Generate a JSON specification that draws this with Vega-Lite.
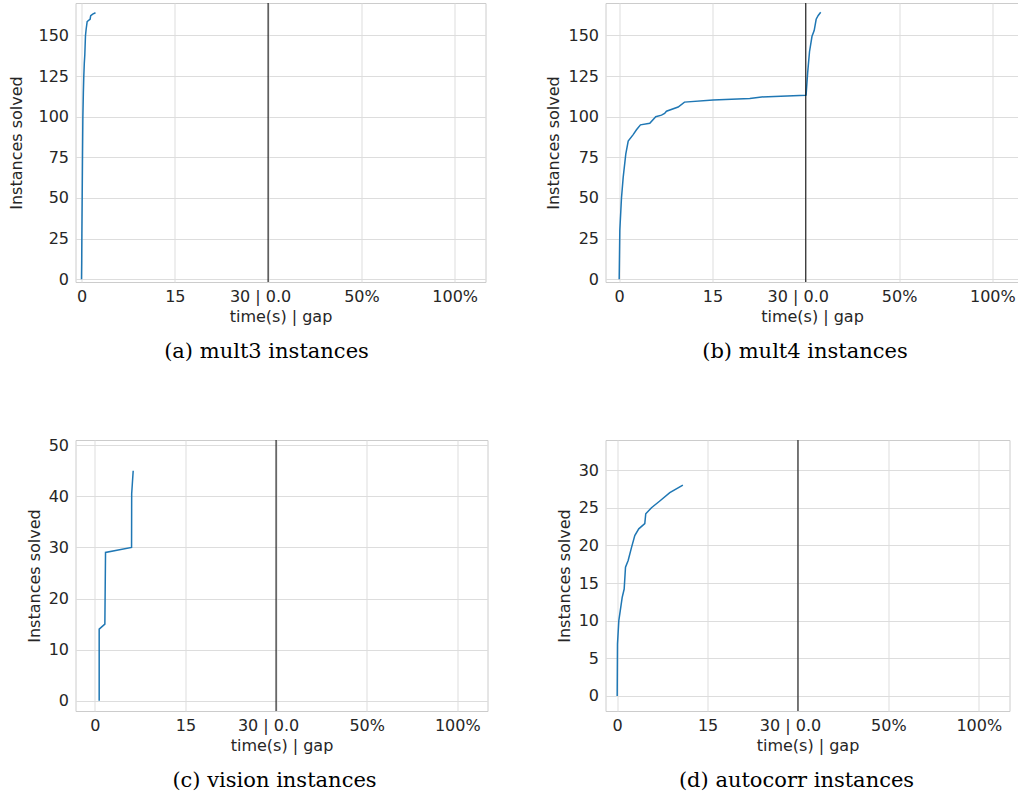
{
  "$schema": "https://vega.github.io/schema/vega-lite/v6.json",
  "usermeta": {"embedOptions": {"actions": false}},
  "background": "white",
  "padding": {"left": 7.5, "top": 2, "right": 0, "bottom": 0},
  "columns": 2,
  "bounds": "flush",
  "spacing": {"row": 158, "column": 118},
  "datasets": {
    "mult3": [
      {"x": 0, "y": 0}, {"x": 0.03, "y": 10}, {"x": 0.06, "y": 28}, {"x": 0.11, "y": 50},
      {"x": 0.16, "y": 75}, {"x": 0.22, "y": 100}, {"x": 0.3, "y": 115}, {"x": 0.37, "y": 125},
      {"x": 0.45, "y": 133}, {"x": 0.53, "y": 138}, {"x": 0.64, "y": 150}, {"x": 0.75, "y": 154},
      {"x": 0.91, "y": 158.5}, {"x": 1.2, "y": 159.5}, {"x": 1.38, "y": 160}, {"x": 1.48, "y": 162.2},
      {"x": 1.8, "y": 163.2}, {"x": 2.25, "y": 164}
    ],
    "mult4": [
      {"x": 0, "y": 0}, {"x": 0.05, "y": 15}, {"x": 0.1, "y": 30}, {"x": 0.37, "y": 50},
      {"x": 0.64, "y": 62.5}, {"x": 1.06, "y": 77}, {"x": 1.45, "y": 85}, {"x": 2.25, "y": 89},
      {"x": 2.78, "y": 92}, {"x": 3.42, "y": 95}, {"x": 4.92, "y": 96}, {"x": 5.88, "y": 100},
      {"x": 6.8, "y": 101}, {"x": 7.3, "y": 102}, {"x": 7.6, "y": 103.4}, {"x": 9.48, "y": 106},
      {"x": 10.5, "y": 109}, {"x": 15.1, "y": 110.3}, {"x": 21, "y": 111.2}, {"x": 22.9, "y": 112.2},
      {"x": 30, "y": 113.2}, {"x": 30.05, "y": 113.3}, {"x": 30.3, "y": 127}, {"x": 30.6, "y": 140},
      {"x": 31.0, "y": 149.5}, {"x": 31.35, "y": 153}, {"x": 31.67, "y": 160}, {"x": 32, "y": 162.3},
      {"x": 32.4, "y": 164.3}
    ],
    "vision": [
      {"x": 0.72, "y": 0}, {"x": 0.72, "y": 14}, {"x": 1.66, "y": 15}, {"x": 1.77, "y": 29},
      {"x": 6.08, "y": 30}, {"x": 6.1, "y": 40.5}, {"x": 6.35, "y": 45}
    ],
    "autocorr": [
      {"x": 0, "y": 0}, {"x": 0.05, "y": 6.9}, {"x": 0.27, "y": 10}, {"x": 0.83, "y": 13.1},
      {"x": 1.16, "y": 14.2}, {"x": 1.38, "y": 17.1}, {"x": 1.82, "y": 18}, {"x": 2.37, "y": 19.7},
      {"x": 2.92, "y": 21.3}, {"x": 3.58, "y": 22.2}, {"x": 4.58, "y": 22.9}, {"x": 4.74, "y": 24.2},
      {"x": 5.69, "y": 25}, {"x": 7.07, "y": 25.9}, {"x": 8.73, "y": 27}, {"x": 10.9, "y": 28}
    ],
    "split": [{"x": 30}]
  },
  "concat": [
    {
      "width": 410, "height": 279,
      "title": {"text": "(a) mult3 instances", "dx": -14},
      "encoding": {
        "x": {"field": "x", "type": "quantitative", "title": "time(s) | gap",
          "scale": {"domain": [-0.965, 64.95], "nice": false, "zero": false},
          "axis": {"values": [0, 15, 30, 45, 60], "labelOverlap": false,
            "labelExpr": "datum.value == 0 ? '0' : datum.value == 15 ? '15' : datum.value == 30 ? '30 | 0.0' : datum.value == 45 ? '50%' : '100%'",
            "labelOffset": {"condition": {"test": "datum.value == 30", "value": -8}, "value": 0}}}
      },
      "layer": [
        {"data": {"name": "mult3"}, "mark": {"type": "line", "color": "#1f77b4", "strokeWidth": 1.5},
         "encoding": {"y": {"field": "y", "type": "quantitative", "title": "Instances solved",
           "scale": {"domain": [-1.7, 170], "nice": false, "zero": false},
           "axis": {"values": [0, 25, 50, 75, 100, 125, 150], "titlePadding": 13}}}},
        {"data": {"name": "split"}, "mark": {"type": "rule", "color": "black", "strokeWidth": 1}, "encoding": {}}
      ]
    },
    {
      "width": 413, "height": 279,
      "title": {"text": "(b) mult4 instances", "dx": -7},
      "encoding": {
        "x": {"field": "x", "type": "quantitative", "title": "time(s) | gap",
          "scale": {"domain": [-2.2, 64.2], "nice": false, "zero": false},
          "axis": {"values": [0, 15, 30, 45, 60], "labelOverlap": false,
            "labelExpr": "datum.value == 0 ? '0' : datum.value == 15 ? '15' : datum.value == 30 ? '30 | 0.0' : datum.value == 45 ? '50%' : '100%'",
            "labelOffset": {"condition": {"test": "datum.value == 30", "value": -8}, "value": 0}}}
      },
      "layer": [
        {"data": {"name": "mult4"}, "mark": {"type": "line", "color": "#1f77b4", "strokeWidth": 1.5},
         "encoding": {"y": {"field": "y", "type": "quantitative", "title": "Instances solved",
           "scale": {"domain": [-1.7, 170], "nice": false, "zero": false},
           "axis": {"values": [0, 25, 50, 75, 100, 125, 150]}}}},
        {"data": {"name": "split"}, "mark": {"type": "rule", "color": "black", "strokeWidth": 1}, "encoding": {}}
      ]
    },
    {
      "width": 412, "height": 271,
      "title": {"text": "(c) vision instances", "dx": -7},
      "encoding": {
        "x": {"field": "x", "type": "quantitative", "title": "time(s) | gap",
          "scale": {"domain": [-3.2, 65], "nice": false, "zero": false},
          "axis": {"values": [0, 15, 30, 45, 60], "labelOverlap": false,
            "labelExpr": "datum.value == 0 ? '0' : datum.value == 15 ? '15' : datum.value == 30 ? '30 | 0.0' : datum.value == 45 ? '50%' : '100%'",
            "labelOffset": {"condition": {"test": "datum.value == 30", "value": -8}, "value": 0}}}
      },
      "layer": [
        {"data": {"name": "vision"}, "mark": {"type": "line", "color": "#1f77b4", "strokeWidth": 1.5},
         "encoding": {"y": {"field": "y", "type": "quantitative", "title": "Instances solved",
           "scale": {"domain": [-2, 51], "nice": false, "zero": false},
           "axis": {"values": [0, 10, 20, 30, 40, 50]}}}},
        {"data": {"name": "split"}, "mark": {"type": "rule", "color": "black", "strokeWidth": 1}, "encoding": {}}
      ]
    },
    {
      "width": 404, "height": 271,
      "title": {"text": "(d) autocorr instances", "dx": -11},
      "encoding": {
        "x": {"field": "x", "type": "quantitative", "title": "time(s) | gap",
          "scale": {"domain": [-1.94, 65.1], "nice": false, "zero": false},
          "axis": {"values": [0, 15, 30, 45, 60], "labelOverlap": false,
            "labelExpr": "datum.value == 0 ? '0' : datum.value == 15 ? '15' : datum.value == 30 ? '30 | 0.0' : datum.value == 45 ? '50%' : '100%'",
            "labelOffset": {"condition": {"test": "datum.value == 30", "value": -8}, "value": 0}}}
      },
      "layer": [
        {"data": {"name": "autocorr"}, "mark": {"type": "line", "color": "#1f77b4", "strokeWidth": 1.5},
         "encoding": {"y": {"field": "y", "type": "quantitative", "title": "Instances solved",
           "scale": {"domain": [-2, 34], "nice": false, "zero": false},
           "axis": {"values": [0, 5, 10, 15, 20, 25, 30]}}}},
        {"data": {"name": "split"}, "mark": {"type": "rule", "color": "black", "strokeWidth": 1}, "encoding": {}}
      ]
    }
  ],
  "config": {
    "font": "DejaVu Sans",
    "view": {"stroke": "#cccccc", "strokeWidth": 1},
    "axis": {"domain": false, "ticks": false, "tickSize": 0, "grid": true, "gridColor": "#dddddd", "gridWidth": 1,
      "labelFont": "DejaVu Sans", "labelFontSize": 16, "labelColor": "#262626",
      "titleFont": "DejaVu Sans", "titleFontSize": 16, "titleFontWeight": "normal", "titleColor": "#262626"},
    "axisX": {"labelPadding": 6, "titlePadding": 4.5},
    "axisY": {"labelPadding": 7, "titlePadding": 6},
    "title": {"font": "DejaVu Serif", "fontSize": 21, "fontWeight": "normal", "color": "black", "offset": 16,
      "orient": "bottom", "frame": "group", "anchor": "middle"}
  }
}
